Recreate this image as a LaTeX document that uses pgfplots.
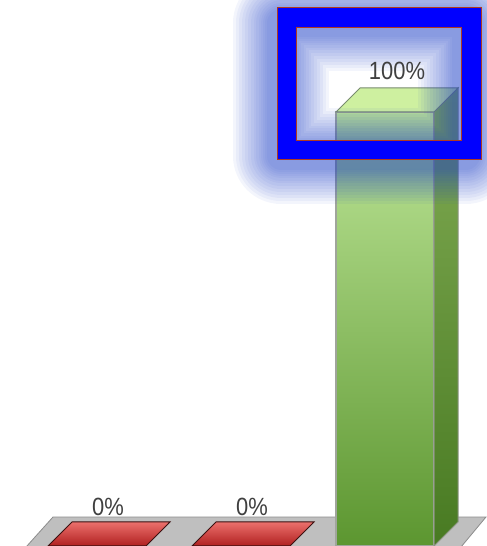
\documentclass[border=0pt]{standalone}
\usepackage{pgfplots}
\pgfplotsset{compat=1.18}
\usepackage{fontspec}
\setmainfont{Liberation Sans}
\definecolor{glowc}{HTML}{2848C8}
\definecolor{framered}{HTML}{B03A20}
\newcommand\PX[2]{(axis cs:#1,{(546-#2)/4.34})}
\newcommand\GL[1]{\draw[line width=#1bp, color=glowc, opacity=0.055, line join=round] \PX{281}{23} rectangle \PX{466}{156};}
\begin{document}
\begin{tikzpicture}
\begin{axis}[
  scale only axis, width=487bp, height=546bp,
  xmin=0, xmax=487, ymin=0, ymax=125.806,
  hide axis, clip=false]
% floor strip
\addplot[fill=black!25, draw=black!45, line width=0.8bp] coordinates {(25,-0.5)(460,-0.5)(486,6.68)(53,6.68)} -- cycle;
% zero-height red bars (top faces)
\addplot[top color={rgb,255:red,236;green,112;blue,108}, bottom color={rgb,255:red,176;green,32;blue,32}, draw={rgb,255:red,60;green,16;blue,16}, line width=1bp]
  coordinates {(48,0)(146,0)(170,5.53)(72,5.53)} -- cycle;
\addplot[top color={rgb,255:red,236;green,112;blue,108}, bottom color={rgb,255:red,176;green,32;blue,32}, draw={rgb,255:red,60;green,16;blue,16}, line width=1bp]
  coordinates {(192,0)(290,0)(314,5.53)(216,5.53)} -- cycle;
% green bar: front
\addplot[ybar, bar width=98, top color={rgb,255:red,190;green,230;blue,152}, bottom color={rgb,255:red,92;green,150;blue,48}, draw={rgb,255:red,160;green,165;blue,155}, line width=1.3bp]
  coordinates {(385,100)};
% side face
\addplot[top color={rgb,255:red,130;green,172;blue,84}, bottom color={rgb,255:red,72;green,122;blue,34}, draw={rgb,255:red,140;green,150;blue,130}, line width=1bp]
  coordinates {(434,0)(458,5.53)(458,105.53)(434,100)} -- cycle;
% top face
\addplot[fill={rgb,255:red,206;green,240;blue,160}, draw={rgb,255:red,120;green,140;blue,110}, line width=1bp]
  coordinates {(336,100)(434,100)(458,105.53)(360,105.53)} -- cycle;
% labels
\node[font=\fontsize{25}{28}\selectfont, text=black!75, xscale=0.88] at \PX{108}{507} {0\%};
\node[font=\fontsize{25}{28}\selectfont, text=black!75, xscale=0.88] at \PX{252}{507} {0\%};
% highlight glow
\begin{scope}
\clip (axis cs:0,0) rectangle (axis cs:487,125.806);
\GL{96}\GL{90}\GL{84}\GL{78}\GL{72}\GL{66}\GL{60}\GL{55}\GL{50}\GL{45}\GL{40}\GL{36}\GL{32}\GL{28}
\end{scope}
\node[font=\fontsize{25}{28}\selectfont, text=black!75, xscale=0.88] at \PX{397}{71} {100\%};
% frame
\fill[blue, even odd rule] \PX{277}{8} rectangle \PX{481}{160} \PX{296}{28} rectangle \PX{461}{141};
\draw[framered, line width=1bp] \PX{277}{8} rectangle \PX{481}{160};
\draw[framered, line width=1bp] \PX{296}{28} rectangle \PX{461}{141};
\end{axis}
\pgfresetboundingbox
\useasboundingbox (current axis.south west) rectangle (current axis.north east);
\end{tikzpicture}
\end{document}
